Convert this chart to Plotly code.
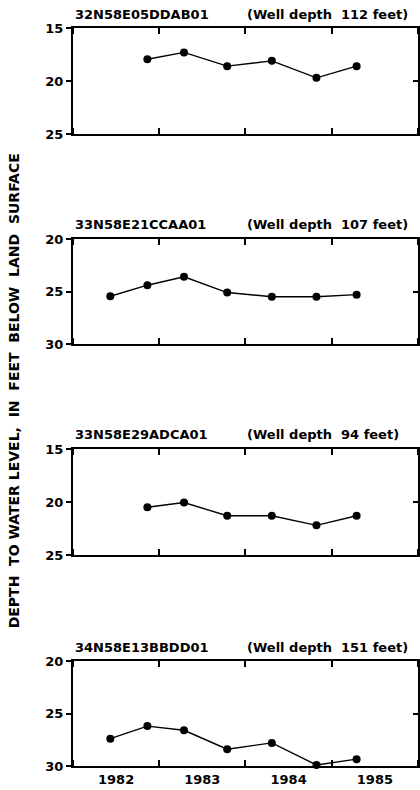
import plotly.graph_objects as go

# ---- data ----
dates = ["1982-06-08", "1982-11-12", "1983-04-16", "1983-10-16",
         "1984-04-22", "1984-10-28", "1985-04-16"]
well_ids = ["32N58E05DDAB01", "33N58E21CCAA01", "33N58E29ADCA01", "34N58E13BBDD01"]
well_depths = ["(Well depth  112 feet)", "(Well depth  107 feet)",
               "(Well depth  94 feet)", "(Well depth  151 feet)"]
w1_dates = dates[1:]
w1_levels = [17.95, 17.3, 18.6, 18.1, 19.7, 18.6]
w2_dates = dates
w2_levels = [25.45, 24.4, 23.6, 25.1, 25.5, 25.5, 25.3]
w3_dates = dates[1:]
w3_levels = [20.5, 20.05, 21.3, 21.3, 22.2, 21.3]
w4_dates = dates
w4_levels = [27.4, 26.2, 26.6, 28.4, 27.8, 29.9, 29.35]
y_ranges = [[15, 25], [20, 30], [15, 25], [20, 30]]
year_range = ["1982-01-01", "1986-01-01"]

series = [(w1_dates, w1_levels), (w2_dates, w2_levels),
          (w3_dates, w3_levels), (w4_dates, w4_levels)]

W, H = 420, 790
ML, MR, MT, MB = 73, 0, 28, 24
plot_h = H - MT - MB
# panel pixel tops/bottoms
panel_px = [(28, 134), (239, 344), (449, 555), (661, 766)]
domains = [[(H - MB - b) / plot_h, (H - MB - t) / plot_h] for t, b in panel_px]
domains = [[max(0, d0), min(1, d1)] for d0, d1 in domains]

FONT = "DejaVu Sans"
fig = go.Figure()
layout = {}
annotations = []
for i, ((xs, ys), dom) in enumerate(zip(series, domains)):
    n = i + 1
    xa = "x" if n == 1 else f"x{n}"
    ya = "y" if n == 1 else f"y{n}"
    fig.add_trace(go.Scatter(
        x=xs, y=ys, xaxis=xa, yaxis=ya, mode="lines+markers",
        line=dict(color="black", width=1.4),
        marker=dict(color="black", size=8),
        cliponaxis=False, showlegend=False, hoverinfo="skip"))
    lo, hi = y_ranges[i]
    layout[f"xaxis{'' if n == 1 else n}"] = dict(
        type="date", range=year_range, anchor=ya, domain=[0, 1],
        dtick="M12", tick0="1982-01-01", tickformat="%Y",
        ticklabelmode="period", ticks="inside", ticklen=6, tickwidth=1.5,
        tickcolor="black", showline=True, linecolor="black", linewidth=2,
        mirror="ticks", showgrid=False, zeroline=False,
        showticklabels=(n == 4),
        tickfont=dict(family=FONT, size=13, color="black", weight="bold"))
    layout[f"yaxis{'' if n == 1 else n}"] = dict(
        range=[hi, lo], anchor=xa, domain=dom,
        tickvals=[lo, (lo + hi) / 2, hi], ticks="outside", ticklen=5,
        tickwidth=1.5, tickcolor="black", showline=True, linecolor="black",
        linewidth=2, mirror=True, showgrid=False, zeroline=False,
        tickfont=dict(family=FONT, size=13, color="black", weight="bold"))
    # right-side inward ticks
    m = n + 4
    layout[f"yaxis{m}"] = dict(
        range=[hi, lo], overlaying=ya, side="right", anchor=xa,
        tickvals=[(lo + hi) / 2], ticks="inside", ticklen=5, tickwidth=1.5,
        tickcolor="black", showline=False, showgrid=False, zeroline=False,
        showticklabels=False)
    fig.add_trace(go.Scatter(x=[None], y=[None], xaxis=xa, yaxis=f"y{m}",
                             showlegend=False, hoverinfo="skip"))
    annotations.append(dict(
        text=well_ids[i], xref="paper", yref="paper", x=0, y=dom[1],
        xanchor="left", yanchor="middle", yshift=14, showarrow=False,
        font=dict(family=FONT, size=13, color="black", weight="bold")))
    annotations.append(dict(
        text=well_depths[i], xref="paper", yref="paper", x=(246 - ML) / (W - ML),
        y=dom[1], xanchor="left", yanchor="middle", yshift=14, showarrow=False,
        font=dict(family=FONT, size=13, color="black", weight="bold")))

annotations.append(dict(
    text="DEPTH  TO WATER LEVEL,  IN  FEET  BELOW  LAND  SURFACE",
    xref="paper", yref="paper", x=(14 - ML) / (W - ML), y=(H - MB - 391) / plot_h,
    xanchor="center", yanchor="middle", textangle=-90, showarrow=False,
    font=dict(family=FONT, size=14, color="black", weight="bold")))

fig.update_layout(
    width=W, height=H, margin=dict(l=ML, r=MR, t=MT, b=MB),
    paper_bgcolor="white", plot_bgcolor="white",
    annotations=annotations, **layout)

fig.write_html("out.html")
